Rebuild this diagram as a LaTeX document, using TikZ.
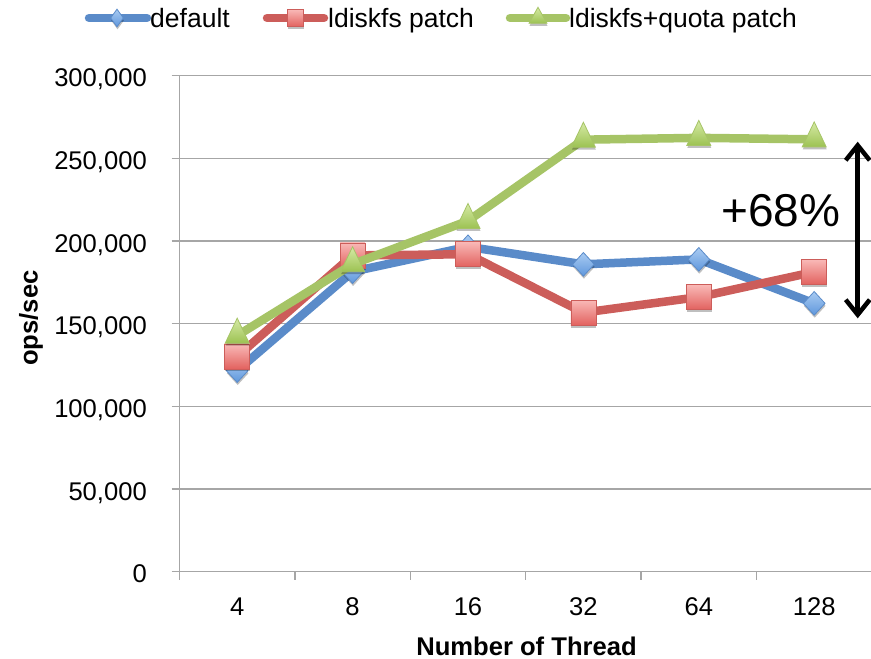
\documentclass[tikz,border=0pt]{standalone}
\usepackage{fontspec}
\setmainfont{Liberation Sans}
\usetikzlibrary{shapes.geometric,arrows.meta,shadows}
\definecolor{serB}{HTML}{5A8BC9}
\definecolor{serR}{HTML}{CC5D5A}
\definecolor{serG}{HTML}{A6C466}
\definecolor{mkBtop}{HTML}{A9CBF2}
\definecolor{mkBbot}{HTML}{5F97DC}
\definecolor{mkRtop}{HTML}{F9B9B7}
\definecolor{mkRbot}{HTML}{E2625F}
\definecolor{mkGtop}{HTML}{D6EAA6}
\definecolor{mkGbot}{HTML}{9CC252}
\definecolor{gridc}{HTML}{A6A6A6}
\begin{document}
\begin{tikzpicture}[x=1pt,y=-1pt,
  gridline/.style={draw=gridc,line width=1.4pt},
  lab/.style={font=\fontsize{25.6}{30}\selectfont,inner sep=0pt},
  leglab/.style={font=\fontsize{26.5}{30}\selectfont,inner sep=0pt},
  boldlab/.style={font=\fontsize{25.6}{30}\selectfont\bfseries,inner sep=0pt},
  serline/.style={line width=8.5pt,line join=round},
  shd/.style={drop shadow={shadow xshift=0.5pt,shadow yshift=-2.5pt,opacity=0.25,fill=black}},
  mkB/.style={diamond,inner sep=0pt,minimum width=22pt,minimum height=24pt,draw=serB,line width=0.8pt,top color=mkBtop,bottom color=mkBbot,shd},
  mkR/.style={rectangle,inner sep=0pt,minimum width=25pt,minimum height=25pt,draw=serR,line width=0.8pt,top color=mkRtop,bottom color=mkRbot,shd},
  mkG/.style={isosceles triangle,isosceles triangle stretches,shape border rotate=90,inner sep=0pt,minimum width=24pt,minimum height=25pt,draw=serG,line width=0.8pt,top color=mkGtop,bottom color=mkGbot,shd},
  lgB/.style={mkB,minimum width=13pt,minimum height=18pt},
  lgR/.style={mkR,minimum width=16pt,minimum height=17pt},
  lgG/.style={mkG,minimum width=18pt,minimum height=16pt},
  bigarrow/.style={line width=4.5pt,{Straight Barb[length=15pt,width=24pt]}-{Straight Barb[length=15pt,width=24pt]}}
]
\useasboundingbox (0,0) rectangle (871,659);

% grid lines and axes
\draw[gridline] (171.7,75.7) -- (871,75.7);
\draw[gridline] (171.7,158.4) -- (871,158.4);
\draw[gridline] (171.7,241.0) -- (871,241.0);
\draw[gridline] (171.7,323.7) -- (871,323.7);
\draw[gridline] (171.7,406.4) -- (871,406.4);
\draw[gridline] (171.7,489.0) -- (871,489.0);
\draw[gridline] (171.7,571.7) -- (871,571.7);
\draw[gridline] (179.5,75.7) -- (179.5,579.5);
\foreach \t in {294.9,410.3,525.7,641.1,756.5}{
  \draw[gridline] (\t,571.7) -- (\t,579.5);
}

% y tick labels
\node[lab,anchor=base east] (yl0) at (147,582.7) {0};
\node[lab,anchor=base east] (yl1) at (147,500.0) {50,000};
\node[lab,anchor=base east] (yl2) at (147,417.4) {100,000};
\node[lab,anchor=base east] (yl3) at (147,334.7) {150,000};
\node[lab,anchor=base east] (yl4) at (147,252.0) {200,000};
\node[lab,anchor=base east] (yl5) at (147,169.4) {250,000};
\node[lab,anchor=base east] (yl6) at (147,86.7) {300,000};

% x tick labels
\node[lab,anchor=base] (xl1) at (237.2,615) {4};
\node[lab,anchor=base] (xl2) at (352.6,615) {8};
\node[lab,anchor=base] (xl3) at (468.0,615) {16};
\node[lab,anchor=base] (xl4) at (583.4,615) {32};
\node[lab,anchor=base] (xl5) at (698.8,615) {64};
\node[lab,anchor=base] (xl6) at (814.2,615) {128};

% axis titles
\node[boldlab,anchor=base] (xtitle) at (526.5,655) {Number of Thread};
\node[boldlab,rotate=90] (ytitle) at (31,318) {ops/sec};

% data
\begin{scope}[shift={(179.5,571.7)},x=115.4pt,y=1.6534pt]
  \coordinate (b1) at (0.5,121.6);
  \coordinate (b2) at (1.5,181.5);
  \coordinate (b3) at (2.5,196.5);
  \coordinate (b4) at (3.5,185.9);
  \coordinate (b5) at (4.5,188.9);
  \coordinate (b6) at (5.5,162.3);
  \coordinate (r1) at (0.5,130.2);
  \coordinate (r2) at (1.5,191.3);
  \coordinate (r3) at (2.5,192.0);
  \coordinate (r4) at (3.5,156.7);
  \coordinate (r5) at (4.5,166.1);
  \coordinate (r6) at (5.5,181.3);
  \coordinate (g1) at (0.5,142.8);
  \coordinate (g2) at (1.5,186.0);
  \coordinate (g3) at (2.5,212.2);
  \coordinate (g4) at (3.5,261.3);
  \coordinate (g5) at (4.5,262.4);
  \coordinate (g6) at (5.5,261.5);
\end{scope}

\draw[serline,serB] (b1) -- (b2) -- (b3) -- (b4) -- (b5) -- (b6);
\foreach \i in {1,...,6}{ \node[mkB] (bm\i) at (b\i) {}; }
\draw[serline,serR] (r1) -- (r2) -- (r3) -- (r4) -- (r5) -- (r6);
\foreach \i in {1,...,6}{ \node[mkR] (rm\i) at (r\i) {}; }
\draw[serline,serG] (g1) -- (g2) -- (g3) -- (g4) -- (g5) -- (g6);
\foreach \i in {1,...,6}{ \node[mkG] (gm\i) at (g\i) {}; }

% annotation
\coordinate (arrT) at (857.7,141.7);
\coordinate (arrB) at (857.7,318.3);
\draw[bigarrow] (arrT) -- (arrB);
\node[inner sep=0pt,anchor=base,font=\fontsize{46}{50}\selectfont] (pct) at (781,226.7) {+68\%};

% legend
\coordinate (lbA) at (89,18);  \coordinate (lbB) at (147,18);
\coordinate (lrA) at (267,18); \coordinate (lrB) at (324,18);
\coordinate (lgA) at (510,18); \coordinate (lgB) at (566,18);
\draw[serline,serB,line cap=round] (lbA) -- (lbB);
\node[lgB] (lgmB) at (117,18) {};
\node[leglab,anchor=base west] (ltB) at (150,27) {default};
\draw[serline,serR,line cap=round] (lrA) -- (lrB);
\node[lgR] (lgmR) at (295,18) {};
\node[leglab,anchor=base west] (ltR) at (328,27) {ldiskfs patch};
\draw[serline,serG,line cap=round] (lgA) -- (lgB);
\node[lgG] (lgmG) at (538,18) {};
\node[leglab,anchor=base west] (ltG) at (569,27) {ldiskfs+quota patch};
\end{tikzpicture}
\end{document}
